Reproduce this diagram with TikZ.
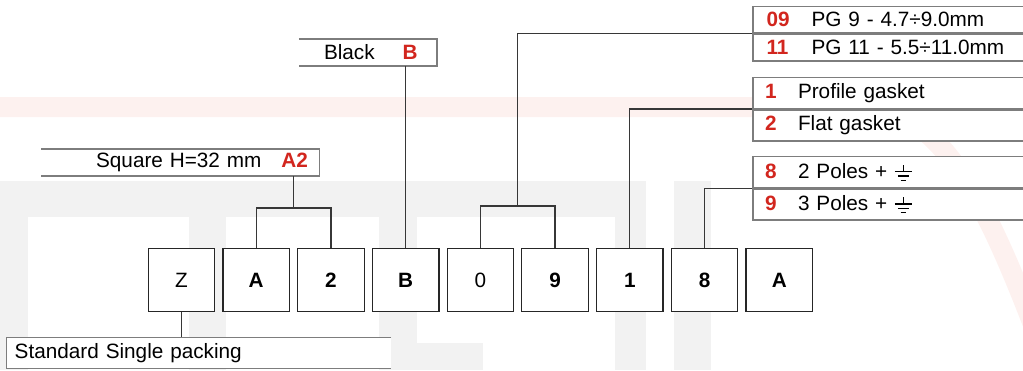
\documentclass[tikz,border=0pt]{standalone}
\usepackage{fontspec}
\setmainfont{Liberation Sans}
\usetikzlibrary{positioning,calc}

\definecolor{codered}{RGB}{210,38,30}
\definecolor{rimgray}{RGB}{125,125,125}
\definecolor{conngray}{RGB}{55,55,55}
\definecolor{wmgray}{RGB}{242,242,242}
\definecolor{wmpink}{RGB}{253,241,239}

\newcommand{\code}[1]{\textbf{\color{codered}#1}}
\newcommand{\earth}{\tikz[baseline=0pt,x=1pt,y=1pt,line width=0.8pt]{%
    \draw (0,3.8) -- (0,7.6);
    \draw (-4.75,3.8) -- (4.75,3.8);
    \draw (-3.1,1.3) -- (3.1,1.3);
    \draw (-1.5,-1.1) -- (1.5,-1.1);}}

\tikzset{
    codebox/.style={draw=black!85, fill=white, line width=0.7pt,
        minimum width=1.33cm, minimum height=1.26cm, inner sep=0pt},
    labelbox/.style={fill=white, inner sep=0pt, text width=#1},
    rowbox/.style={draw=rimgray, fill=white, line width=0.8pt, inner sep=0pt,
        text width=6cm, align=left, minimum height=#1},
    rim/.style={draw=rimgray, line width=0.8pt},
    conn/.style={draw=conngray, line width=0.75pt}
}

\begin{document}
\begin{tikzpicture}[x=0.02cm, y=0.02cm,
    every node/.style={font=\fontsize{11.8}{14}\selectfont}]
    \useasboundingbox (0,0) rectangle (1023,370);

    % Watermark
    \fill[wmgray] (0,0) rectangle (646,189);
    \fill[wmgray] (674,0) rectangle (711,189);
    \fill[white] (28,0) rectangle (189,153);
    \fill[white] (226,0) rectangle (379,153);
    \fill[white] (417,27) rectangle (615,153);
    \fill[white] (483,0) rectangle (615,27);
    \draw[wmpink, line width=0.4cm] (0,263) -- (860,263)
        .. controls (940,263) and (985,170) .. (1035,40);

    % Code boxes
    \node[codebox] (z) at (181.5,90) {Z};
    \node[codebox, right=0.14cm of z] (a) {\textbf{A}};
    \node[codebox, right=0.14cm of a] (two) {\textbf{2}};
    \node[codebox, right=0.14cm of two] (b) {\textbf{B}};
    \node[codebox, right=0.14cm of b] (zero) {0};
    \node[codebox, right=0.14cm of zero] (nine) {\textbf{9}};
    \node[codebox, right=0.14cm of nine] (one) {\textbf{1}};
    \node[codebox, right=0.14cm of one] (eight) {\textbf{8}};
    \node[codebox, right=0.14cm of eight] (aend) {\textbf{A}};

    % Labels
    \node[labelbox=5.546cm, minimum height=0.528cm, align=right] (sq) at (180.35,207.5)
        {Square H=32 mm\hspace{0.4cm}\code{A2}\hspace*{0.22cm}\mbox{}};
    \node[labelbox=2.748cm, minimum height=0.528cm, align=right] (blk) at (368,317.5)
        {Black\hspace{0.56cm}\code{B}\hspace*{0.38cm}\mbox{}};
    \node[labelbox=7.68cm, minimum height=0.612cm, align=left] (std) at (198.7,17)
        {\hspace*{0.16cm}Standard Single packing};
    \draw[rim] (sq.north west) -- (sq.north east) -- (sq.south east) -- (sq.south west);
    \draw[rim] (blk.north west) -- (blk.north east) -- (blk.south east) -- (blk.south west);
    \draw[rim] (std.north east) -- (std.north west) -- (std.south west) -- (std.south east);

    % Tables
    \node[rowbox=0.532cm, anchor=north west] (pg9) at (752.3,364.3)
        {\hspace*{0.27cm}\makebox[0.9cm][l]{\code{09}}PG 9 - 4.7÷9.0mm};
    \node[rowbox=0.532cm, below=0pt of pg9] (pg11)
        {\hspace*{0.27cm}\makebox[0.9cm][l]{\code{11}}PG 11 - 5.5÷11.0mm};
    \node[rowbox=0.62cm, anchor=north west] (prof) at (752.3,293.3)
        {\hspace*{0.24cm}\makebox[0.66cm][l]{\code{1}}Profile gasket};
    \node[rowbox=0.62cm, below=0pt of prof] (flat)
        {\hspace*{0.24cm}\makebox[0.66cm][l]{\code{2}}Flat gasket};
    \node[rowbox=0.62cm, anchor=north west] (pol2) at (752.3,214)
        {\hspace*{0.24cm}\makebox[0.66cm][l]{\code{8}}2 Poles + \earth};
    \node[rowbox=0.62cm, below=0pt of pol2] (pol3)
        {\hspace*{0.24cm}\makebox[0.66cm][l]{\code{9}}3 Poles + \earth};

    % Connectors
    \draw[conn] (z.south) -- (z.south |- std.north);
    \draw[conn] (a.north) -- ++(0,39.8) coordinate (a2l) -| (two.north);
    \coordinate (a2mid) at ($(a2l)!0.5!(two.north |- a2l)$);
    \draw[conn] (a2mid) -- (a2mid |- sq.south);
    \draw[conn] (b.north) -- (b.north |- blk.south);
    \draw[conn] (zero.north) -- ++(0,41.8) coordinate (pgl) -| (nine.north);
    \coordinate (pgmid) at ($(pgl)!0.5!(nine.north |- pgl)$);
    \draw[conn] (pgmid) |- (pg9.south west);
    \draw[conn] (one.north) |- (prof.south west);
    \draw[conn] (eight.north) |- (pol2.south west);
\end{tikzpicture}
\end{document}
